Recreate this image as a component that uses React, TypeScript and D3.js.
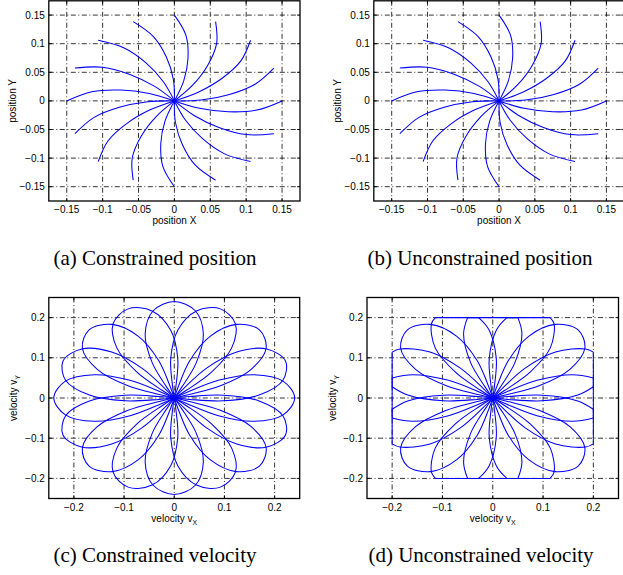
import * as d3 from "d3";

type Pt = [number, number];

// tick values and their printed labels
const posTicks = [-0.15, -0.1, -0.05, 0, 0.05, 0.1, 0.15];
const posTickLabels = ["−0.15", "−0.1", "−0.05", "0", "0.05", "0.1", "0.15"];
const velTicks = [-0.2, -0.1, 0, 0.1, 0.2];
const velTickLabels = ["−0.2", "−0.1", "0", "0.1", "0.2"];

// position trajectories (x, y), one per target direction
const positionPaths: Pt[][] = [
  [[0, 0], [0.035, -0.013], [0.075, -0.019], [0.115, -0.016], [0.15, 0]],
  [[0, 0], [0.0373, 0.0014], [0.0766, 0.0112], [0.1124, 0.0292], [0.1386, 0.0574]],
  [[0, 0], [0.0339, 0.0156], [0.0665, 0.0396], [0.0926, 0.07], [0.1061, 0.1061]],
  [[0, 0], [0.0254, 0.0274], [0.0463, 0.062], [0.0588, 0.1001], [0.0574, 0.1386]],
  [[0, 0], [0.013, 0.035], [0.019, 0.075], [0.016, 0.115], [0, 0.15]],
  [[0, 0], [-0.0014, 0.0373], [-0.0112, 0.0766], [-0.0292, 0.1124], [-0.0574, 0.1386]],
  [[0, 0], [-0.0156, 0.0339], [-0.0396, 0.0665], [-0.07, 0.0926], [-0.1061, 0.1061]],
  [[0, 0], [-0.0274, 0.0254], [-0.062, 0.0463], [-0.1001, 0.0588], [-0.1386, 0.0574]],
  [[0, 0], [-0.035, 0.013], [-0.075, 0.019], [-0.115, 0.016], [-0.15, 0]],
  [[0, 0], [-0.0373, -0.0014], [-0.0766, -0.0112], [-0.1124, -0.0292], [-0.1386, -0.0574]],
  [[0, 0], [-0.0339, -0.0156], [-0.0665, -0.0396], [-0.0926, -0.07], [-0.1061, -0.1061]],
  [[0, 0], [-0.0254, -0.0274], [-0.0463, -0.062], [-0.0588, -0.1001], [-0.0574, -0.1386]],
  [[0, 0], [-0.013, -0.035], [-0.019, -0.075], [-0.016, -0.115], [0, -0.15]],
  [[0, 0], [0.0014, -0.0373], [0.0112, -0.0766], [0.0292, -0.1124], [0.0574, -0.1386]],
  [[0, 0], [0.0156, -0.0339], [0.0396, -0.0665], [0.07, -0.0926], [0.1061, -0.1061]],
  [[0, 0], [0.0274, -0.0254], [0.062, -0.0463], [0.1001, -0.0588], [0.1386, -0.0574]],
];

// velocity loops (vx, vy)
const velocityPaths: Pt[][] = [
  [[0, 0], [0.027, -0.015], [0.088, -0.044], [0.159, -0.058], [0.217, -0.042], [0.24, 0], [0.217, 0.042], [0.159, 0.058], [0.088, 0.044], [0.027, 0.015], [0, 0]],
  [[0, 0], [0.0307, -0.0035], [0.0981, -0.007], [0.1691, 0.0073], [0.2166, 0.0443], [0.2217, 0.0919], [0.1844, 0.1219], [0.1247, 0.1144], [0.0645, 0.0743], [0.0192, 0.0242], [0, 0]],
  [[0, 0], [0.0297, 0.0085], [0.0933, 0.0311], [0.1534, 0.0714], [0.1831, 0.1237], [0.1697, 0.1697], [0.1237, 0.1831], [0.0714, 0.1534], [0.0311, 0.0933], [0.0085, 0.0297], [0, 0]],
  [[0, 0], [0.0242, 0.0192], [0.0743, 0.0645], [0.1144, 0.1247], [0.1219, 0.1844], [0.0919, 0.2217], [0.0443, 0.2166], [0.0073, 0.1691], [-0.007, 0.0981], [-0.0035, 0.0307], [0, 0]],
  [[0, 0], [0.015, 0.027], [0.044, 0.088], [0.058, 0.159], [0.042, 0.217], [0, 0.24], [-0.042, 0.217], [-0.058, 0.159], [-0.044, 0.088], [-0.015, 0.027], [0, 0]],
  [[0, 0], [0.0035, 0.0307], [0.007, 0.0981], [-0.0073, 0.1691], [-0.0443, 0.2166], [-0.0919, 0.2217], [-0.1219, 0.1844], [-0.1144, 0.1247], [-0.0743, 0.0645], [-0.0242, 0.0192], [0, 0]],
  [[0, 0], [-0.0085, 0.0297], [-0.0311, 0.0933], [-0.0714, 0.1534], [-0.1237, 0.1831], [-0.1697, 0.1697], [-0.1831, 0.1237], [-0.1534, 0.0714], [-0.0933, 0.0311], [-0.0297, 0.0085], [0, 0]],
  [[0, 0], [-0.0192, 0.0242], [-0.0645, 0.0743], [-0.1247, 0.1144], [-0.1844, 0.1219], [-0.2217, 0.0919], [-0.2166, 0.0443], [-0.1691, 0.0073], [-0.0981, -0.007], [-0.0307, -0.0035], [0, 0]],
  [[0, 0], [-0.027, 0.015], [-0.088, 0.044], [-0.159, 0.058], [-0.217, 0.042], [-0.24, 0], [-0.217, -0.042], [-0.159, -0.058], [-0.088, -0.044], [-0.027, -0.015], [0, 0]],
  [[0, 0], [-0.0307, 0.0035], [-0.0981, 0.007], [-0.1691, -0.0073], [-0.2166, -0.0443], [-0.2217, -0.0919], [-0.1844, -0.1219], [-0.1247, -0.1144], [-0.0645, -0.0743], [-0.0192, -0.0242], [0, 0]],
  [[0, 0], [-0.0297, -0.0085], [-0.0933, -0.0311], [-0.1534, -0.0714], [-0.1831, -0.1237], [-0.1697, -0.1697], [-0.1237, -0.1831], [-0.0714, -0.1534], [-0.0311, -0.0933], [-0.0085, -0.0297], [0, 0]],
  [[0, 0], [-0.0242, -0.0192], [-0.0743, -0.0645], [-0.1144, -0.1247], [-0.1219, -0.1844], [-0.0919, -0.2217], [-0.0443, -0.2166], [-0.0073, -0.1691], [0.007, -0.0981], [0.0035, -0.0307], [0, 0]],
  [[0, 0], [-0.015, -0.027], [-0.044, -0.088], [-0.058, -0.159], [-0.042, -0.217], [0, -0.24], [0.042, -0.217], [0.058, -0.159], [0.044, -0.088], [0.015, -0.027], [0, 0]],
  [[0, 0], [-0.0035, -0.0307], [-0.007, -0.0981], [0.0073, -0.1691], [0.0443, -0.2166], [0.0919, -0.2217], [0.1219, -0.1844], [0.1144, -0.1247], [0.0743, -0.0645], [0.0242, -0.0192], [0, 0]],
  [[0, 0], [0.0085, -0.0297], [0.0311, -0.0933], [0.0714, -0.1534], [0.1237, -0.1831], [0.1697, -0.1697], [0.1831, -0.1237], [0.1534, -0.0714], [0.0933, -0.0311], [0.0297, -0.0085], [0, 0]],
  [[0, 0], [0.0192, -0.0242], [0.0645, -0.0743], [0.1247, -0.1144], [0.1844, -0.1219], [0.2217, -0.0919], [0.2166, -0.0443], [0.1691, -0.0073], [0.0981, 0.007], [0.0307, 0.0035], [0, 0]],
];

// velocity loops with each component held inside ±0.2 (curved pieces and flat runs)
const velocitySatPaths: Pt[][] = [
  [[0, 0], [0.027, -0.015], [0.088, -0.044], [0.159, -0.058], [0.2, -0.05]],
  [[0.2, -0.05], [0.2, 0.05]],
  [[0.2, 0.05], [0.159, 0.058], [0.088, 0.044], [0.027, 0.015], [0, 0]],
  [[0, 0], [0.0307, -0.0035], [0.0981, -0.007], [0.1691, 0.0073], [0.2, 0.028]],
  [[0.2, 0.028], [0.2, 0.114]],
  [[0.2, 0.114], [0.1844, 0.1219], [0.1247, 0.1144], [0.0645, 0.0743], [0.0192, 0.0242], [0, 0]],
  [[0, 0], [0.0297, 0.0085], [0.0933, 0.0311], [0.1534, 0.0714], [0.1831, 0.1237], [0.1697, 0.1697], [0.1237, 0.1831], [0.0714, 0.1534], [0.0311, 0.0933], [0.0085, 0.0297], [0, 0]],
  [[0, 0], [-0.0035, 0.0307], [-0.007, 0.0981], [0.0073, 0.1691], [0.028, 0.2]],
  [[0.028, 0.2], [0.114, 0.2]],
  [[0.114, 0.2], [0.1219, 0.1844], [0.1144, 0.1247], [0.0743, 0.0645], [0.0242, 0.0192], [0, 0]],
  [[0, 0], [0.015, 0.027], [0.044, 0.088], [0.058, 0.159], [0.05, 0.2]],
  [[0.05, 0.2], [-0.05, 0.2]],
  [[-0.05, 0.2], [-0.058, 0.159], [-0.044, 0.088], [-0.015, 0.027], [0, 0]],
  [[0, 0], [0.0035, 0.0307], [0.007, 0.0981], [-0.0073, 0.1691], [-0.028, 0.2]],
  [[-0.028, 0.2], [-0.114, 0.2]],
  [[-0.114, 0.2], [-0.1219, 0.1844], [-0.1144, 0.1247], [-0.0743, 0.0645], [-0.0242, 0.0192], [0, 0]],
  [[0, 0], [-0.0085, 0.0297], [-0.0311, 0.0933], [-0.0714, 0.1534], [-0.1237, 0.1831], [-0.1697, 0.1697], [-0.1831, 0.1237], [-0.1534, 0.0714], [-0.0933, 0.0311], [-0.0297, 0.0085], [0, 0]],
  [[0, 0], [-0.0307, -0.0035], [-0.0981, -0.007], [-0.1691, 0.0073], [-0.2, 0.028]],
  [[-0.2, 0.028], [-0.2, 0.114]],
  [[-0.2, 0.114], [-0.1844, 0.1219], [-0.1247, 0.1144], [-0.0645, 0.0743], [-0.0192, 0.0242], [0, 0]],
  [[0, 0], [-0.027, 0.015], [-0.088, 0.044], [-0.159, 0.058], [-0.2, 0.05]],
  [[-0.2, 0.05], [-0.2, -0.05]],
  [[-0.2, -0.05], [-0.159, -0.058], [-0.088, -0.044], [-0.027, -0.015], [0, 0]],
  [[0, 0], [-0.0307, 0.0035], [-0.0981, 0.007], [-0.1691, -0.0073], [-0.2, -0.028]],
  [[-0.2, -0.028], [-0.2, -0.114]],
  [[-0.2, -0.114], [-0.1844, -0.1219], [-0.1247, -0.1144], [-0.0645, -0.0743], [-0.0192, -0.0242], [0, 0]],
  [[0, 0], [-0.0297, -0.0085], [-0.0933, -0.0311], [-0.1534, -0.0714], [-0.1831, -0.1237], [-0.1697, -0.1697], [-0.1237, -0.1831], [-0.0714, -0.1534], [-0.0311, -0.0933], [-0.0085, -0.0297], [0, 0]],
  [[0, 0], [0.0035, -0.0307], [0.007, -0.0981], [-0.0073, -0.1691], [-0.028, -0.2]],
  [[-0.028, -0.2], [-0.114, -0.2]],
  [[-0.114, -0.2], [-0.1219, -0.1844], [-0.1144, -0.1247], [-0.0743, -0.0645], [-0.0242, -0.0192], [0, 0]],
  [[0, 0], [-0.015, -0.027], [-0.044, -0.088], [-0.058, -0.159], [-0.05, -0.2]],
  [[-0.05, -0.2], [0.05, -0.2]],
  [[0.05, -0.2], [0.058, -0.159], [0.044, -0.088], [0.015, -0.027], [0, 0]],
  [[0, 0], [-0.0035, -0.0307], [-0.007, -0.0981], [0.0073, -0.1691], [0.028, -0.2]],
  [[0.028, -0.2], [0.114, -0.2]],
  [[0.114, -0.2], [0.1219, -0.1844], [0.1144, -0.1247], [0.0743, -0.0645], [0.0242, -0.0192], [0, 0]],
  [[0, 0], [0.0085, -0.0297], [0.0311, -0.0933], [0.0714, -0.1534], [0.1237, -0.1831], [0.1697, -0.1697], [0.1831, -0.1237], [0.1534, -0.0714], [0.0933, -0.0311], [0.0297, -0.0085], [0, 0]],
  [[0, 0], [0.0307, 0.0035], [0.0981, 0.007], [0.1691, -0.0073], [0.2, -0.028]],
  [[0.2, -0.028], [0.2, -0.114]],
  [[0.2, -0.114], [0.1844, -0.1219], [0.1247, -0.1144], [0.0645, -0.0743], [0.0192, -0.0242], [0, 0]],
];

const captions = [
  "(a) Constrained position",
  "(b) Unconstrained position",
  "(c) Constrained velocity",
  "(d) Unconstrained velocity",
];

const sans = "'Liberation Sans', Arial, Helvetica, sans-serif";
const serif = "'Liberation Serif', 'Times New Roman', serif";

type PanelProps = {
  left: number;
  right: number;
  top: number;
  bottom: number;
  lim: number;
  ticks: number[];
  tickLabels: string[];
  paths: Pt[][];
  xLabel: [string, string];
  yLabel: [string, string];
  yLabelGap: number;
  caption: string;
  captionX: number;
  captionY: number;
};

function Panel(p: PanelProps) {
  const x = d3.scaleLinear().domain([-p.lim, p.lim]).range([p.left, p.right]);
  const y = d3.scaleLinear().domain([-p.lim, p.lim]).range([p.bottom, p.top]);
  const line = d3
    .line<Pt>()
    .x((d) => x(d[0]))
    .y((d) => y(d[1]))
    .curve(d3.curveCatmullRom.alpha(0.5));
  const tk = 3;
  const cx = (p.left + p.right) / 2;
  const cy = (p.top + p.bottom) / 2;
  const grid = { stroke: "#000", strokeWidth: 0.8, strokeDasharray: "5,2.5,1,2.5" };

  return (
    <g>
      {p.ticks.map((t) => (
        <g key={"g" + t}>
          <line x1={x(t)} x2={x(t)} y1={p.top} y2={p.bottom} {...grid} />
          <line x1={p.left} x2={p.right} y1={y(t)} y2={y(t)} {...grid} />
        </g>
      ))}
      {p.paths.map((d, i) => (
        <path key={i} d={line(d) ?? ""} fill="none" stroke="#0000ff" strokeWidth={1.05} />
      ))}
      {p.ticks.map((t) => (
        <g key={"t" + t} stroke="#000" strokeWidth={0.9}>
          <line x1={x(t)} x2={x(t)} y1={p.bottom} y2={p.bottom - tk} />
          <line x1={x(t)} x2={x(t)} y1={p.top} y2={p.top + tk} />
          <line x1={p.left} x2={p.left + tk} y1={y(t)} y2={y(t)} />
          <line x1={p.right} x2={p.right - tk} y1={y(t)} y2={y(t)} />
        </g>
      ))}
      <rect
        x={p.left}
        y={p.top}
        width={p.right - p.left}
        height={p.bottom - p.top}
        fill="none"
        stroke="#000"
        strokeWidth={1.3}
      />
      <g fontFamily={sans} fontSize={10} fill="#000">
        {p.ticks.map((t, i) => (
          <text key={"x" + t} x={x(t)} y={p.bottom + 12} textAnchor="middle">
            {p.tickLabels[i]}
          </text>
        ))}
        {p.ticks.map((t, i) => (
          <text key={"y" + t} x={p.left - 4} y={y(t) + 3.5} textAnchor="end">
            {p.tickLabels[i]}
          </text>
        ))}
        <text x={cx} y={p.bottom + 23} textAnchor="middle">
          {p.xLabel[0]}
          {p.xLabel[1] && (
            <tspan fontSize={7} dy={3}>
              {p.xLabel[1]}
            </tspan>
          )}
        </text>
        <text
          transform={`translate(${p.left - p.yLabelGap},${cy}) rotate(-90)`}
          textAnchor="middle"
        >
          {p.yLabel[0]}
          {p.yLabel[1] && (
            <tspan fontSize={7} dy={3}>
              {p.yLabel[1]}
            </tspan>
          )}
        </text>
      </g>
      <text x={p.captionX} y={p.captionY} textAnchor="middle" fontFamily={serif} fontSize={21}>
        {p.caption}
      </text>
    </g>
  );
}

export default function App() {
  return (
    <svg
      width={623}
      height={575}
      style={{ position: "absolute", left: 0, top: 0, background: "#fff" }}
    >
      <rect width={623} height={575} fill="#fff" />
      <Panel
        left={48.8}
        right={300}
        top={0.8}
        bottom={201}
        lim={0.175}
        ticks={posTicks}
        tickLabels={posTickLabels}
        paths={positionPaths}
        xLabel={["position X", ""]}
        yLabel={["position Y", ""]}
        yLabelGap={33}
        caption={captions[0]}
        captionX={155}
        captionY={265}
      />
      <Panel
        left={373.8}
        right={624.3}
        top={0.8}
        bottom={201}
        lim={0.175}
        ticks={posTicks}
        tickLabels={posTickLabels}
        paths={positionPaths}
        xLabel={["position X", ""]}
        yLabel={["position Y", ""]}
        yLabelGap={33}
        caption={captions[1]}
        captionX={480}
        captionY={265}
      />
      <Panel
        left={48.8}
        right={299.7}
        top={297.5}
        bottom={498.5}
        lim={0.25}
        ticks={velTicks}
        tickLabels={velTickLabels}
        paths={velocityPaths}
        xLabel={["velocity v", "X"]}
        yLabel={["velocity v", "Y"]}
        yLabelGap={32}
        caption={captions[2]}
        captionX={155}
        captionY={562}
      />
      <Panel
        left={367}
        right={618.5}
        top={297.5}
        bottom={498.5}
        lim={0.25}
        ticks={velTicks}
        tickLabels={velTickLabels}
        paths={velocitySatPaths}
        xLabel={["velocity v", "X"]}
        yLabel={["velocity v", "Y"]}
        yLabelGap={31}
        caption={captions[3]}
        captionX={481}
        captionY={562}
      />
    </svg>
  );
}
